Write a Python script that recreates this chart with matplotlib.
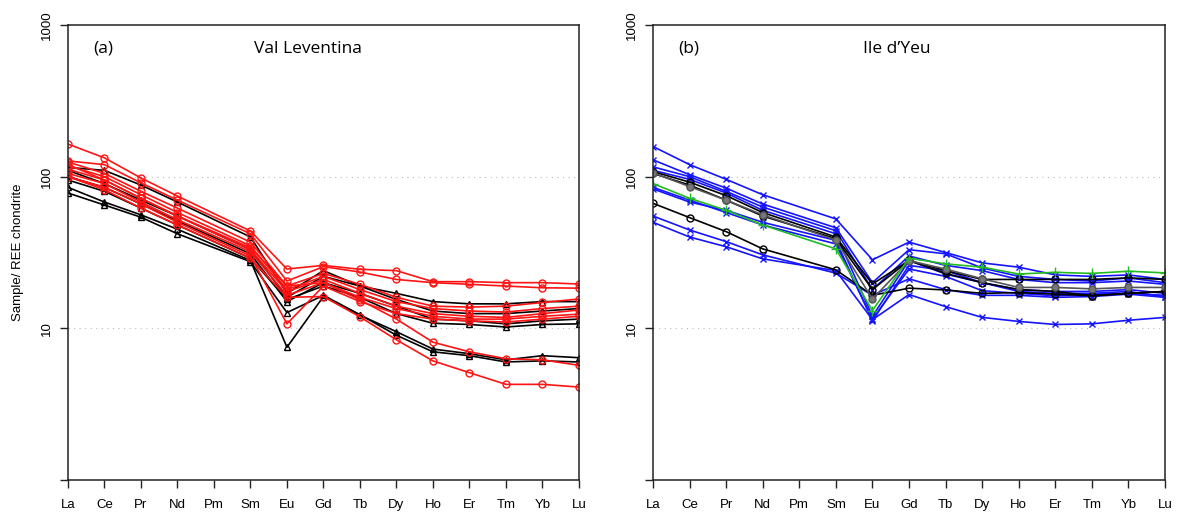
import matplotlib
matplotlib.use('Agg')
import matplotlib.pyplot as plt

ree = ['La', 'Ce', 'Pr', 'Nd', 'Pm', 'Sm', 'Eu', 'Gd', 'Tb', 'Dy', 'Ho', 'Er', 'Tm', 'Yb', 'Lu']
# Pm is not analysed: values below follow La..Nd, Sm..Lu
measured = ['La', 'Ce', 'Pr', 'Nd', 'Sm', 'Eu', 'Gd', 'Tb', 'Dy', 'Ho', 'Er', 'Tm', 'Yb', 'Lu']

# (a) Val Leventina
leventina_red = [
    [164, 133, 98, 74.5, 43.8, 24.6, 26, 24.5, 24, 20.3, 20.3, 20, 20, 19.6],
    [127, 120, 91, 70, 42, 20.5, 25.5, 23.5, 21, 20, 19.5, 19, 18.5, 18.4],
    [125, 105, 80, 62, 37, 19, 23, 19.5, 16, 14, 13.8, 14, 14.8, 15.6],
    [118, 100, 76, 58, 35, 18, 22, 18, 15, 13.5, 13, 12.8, 13.5, 14.0],
    [112, 95, 72, 55, 33, 17.5, 21, 17, 14, 12.5, 12, 11.8, 12.5, 13.2],
    [105, 90, 68, 52, 32, 16.5, 20, 16, 13.5, 12, 11.5, 11.5, 12, 12.4],
    [100, 85, 66, 50, 30, 10.7, 19, 15, 12.5, 11.5, 11.2, 11, 11.5, 12],
    [120, 95, 72, 55, 34, 19, 20, 15.4, 11.5, 8.1, 7.0, 6.3, 6.2, 5.7],
    [100, 82, 62, 48, 29, 16, 16.2, 11.9, 8.4, 6.1, 5.1, 4.27, 4.27, 4.1],
]
leventina_black = [
    [115, 110, 88, 68, 40, 17, 24, 19, 17, 15, 14.5, 14.5, 15, 15],
    [110, 90, 70, 55, 33, 16, 22, 19, 15.5, 13, 12.5, 12.5, 13, 13.5],
    [100, 85, 66, 51, 31, 15, 20, 17, 14, 11.5, 11.2, 10.7, 11.2, 11.5],
    [95, 80, 62, 48, 29, 15.5, 19, 16, 12.5, 10.8, 10.6, 10.2, 10.6, 10.7],
    [85, 68, 56, 45, 28, 7.5, 16.2, 12.2, 9.5, 7.3, 6.8, 6.2, 6.6, 6.4],
    [78, 65, 54, 42, 27.5, 12.7, 16.5, 12.3, 9.0, 7.0, 6.6, 6.0, 6.1, 6.0],
]

# (b) Ile d'Yeu
yeu_blue = [
    [158, 120, 96, 76, 52.6, 28.3, 37, 31.6, 27, 25.3, 22.5, 22, 22.5, 21],
    [129, 103, 84, 66, 46, 20, 33, 31, 25, 22, 21, 20.5, 21.5, 20],
    [116, 100, 80, 63, 44, 18, 30, 26, 24, 21, 20, 20, 20.5, 19.5],
    [110, 96, 78, 60, 42, 12, 28, 22.8, 20, 18, 17.5, 17.5, 18, 17],
    [85, 70, 58, 48, 36, 11.5, 24.6, 22, 17.7, 17, 16.4, 16.8, 17, 16.5],
    [83, 68, 60, 50, 38, 11.2, 26, 24, 20, 17.5, 17, 17, 17.5, 16.1],
    [55, 44.5, 37.3, 30.5, 23.1, 16.5, 21.2, 18, 16.5, 16.5, 16, 16.2, 16.8, 16],
    [50, 40, 34.5, 28.7, 24, 11.4, 16.7, 13.9, 11.8, 11.1, 10.6, 10.7, 11.3, 11.8],
]
yeu_black = [
    [108, 92, 75, 58, 40, 19.6, 28, 23, 20, 18, 17.5, 16.4, 17, 17.5],
    [105, 88, 70, 55, 39, 18, 28, 24, 21, 21, 21, 21, 21.5, 21],
    [66.7, 53.7, 43.4, 33.4, 24.3, 16.5, 18.4, 17.9, 17, 17.2, 16.8, 16.4, 17, 17.5],
]
yeu_grey = [
    [106, 86, 70, 56, 38.2, 15.6, 27.9, 24.6, 21.2, 18.6, 18.6, 18.2, 18.6, 18.6],
]
yeu_green = [
    [90, 72, 60, 48, 33.4, 13.1, 29, 26.6, 25.3, 22.8, 23.4, 23, 23.8, 23.2],
]

xpos = [ree.index(e) for e in measured]


def setup(ax, label, title, title_x):
    ax.set_yscale('log')
    ax.set_ylim(1, 1000)
    ax.set_xlim(0, 14)
    ax.set_xticks(range(len(ree)))
    ax.set_xticklabels(ree, fontsize=9.5, fontfamily='Liberation Sans')
    ax.set_yticks([1, 10, 100, 1000])
    ax.set_yticklabels(['', '10', '100', '1000'], rotation=90, va='center',
                       fontsize=9.5, fontfamily='Liberation Sans')
    ax.minorticks_off()
    ax.tick_params(direction='out', length=6, width=1, color='#222222')
    ax.tick_params(axis='x', pad=8)
    ax.tick_params(axis='y', pad=5)
    for s in ax.spines.values():
        s.set_linewidth(1.1)
        s.set_color('#222222')
    for g in [10, 100]:
        ax.axhline(g, color='#bbbbbb', lw=0.8, ls=(0, (1, 4)), zorder=0)
    ax.text(0.049, 0.948, label, transform=ax.transAxes, fontsize=12.5,
            fontfamily='Open Sans', va='center')
    ax.text(title_x, 0.948, title, transform=ax.transAxes,
            fontsize=12.5, fontfamily='Open Sans', va='center')


def draw(ax, rows, color, marker, mfc='none', ms=5, lw=1.2):
    for r in rows:
        ax.plot(xpos, r, color=color, lw=lw, marker=marker, ms=ms,
                mfc=mfc, mec=color, mew=1.0)


fig = plt.figure(figsize=(11.8, 5.15), dpi=100)
ax1 = fig.add_axes([0.0576, 0.068, 0.433, 0.8835])
ax2 = fig.add_axes([0.5534, 0.068, 0.4339, 0.8835])

setup(ax1, '(a)', 'Val Leventina', 0.365)
draw(ax1, leventina_black, 'black', '^')
draw(ax1, leventina_red, '#ff1414', 'o')
ax1.set_ylabel('Sample/ REE chondrite', fontsize=9.5, fontfamily='Liberation Sans', labelpad=12)

setup(ax2, '(b)', "Ile d\u2019Yeu", 0.41)
draw(ax2, yeu_blue, '#1414ff', 'x')
draw(ax2, yeu_black, 'black', 'o')
draw(ax2, yeu_grey, '#555555', 'o', mfc='#777777')
draw(ax2, yeu_green, '#22bb22', '+', ms=6.5)

fig.savefig('out.png', dpi=100)
